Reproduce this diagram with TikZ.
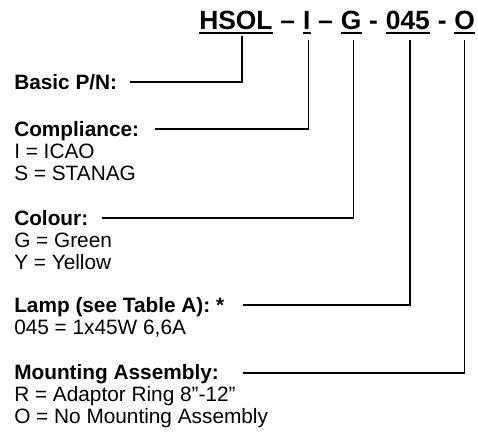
\documentclass[tikz,border=0pt]{standalone}
\usepackage{fontspec}
\setmainfont{Liberation Sans}
\usetikzlibrary{calc}
\begin{document}
\begin{tikzpicture}[x=0.75pt,y=-0.75pt,
  body/.style={anchor=base west, inner sep=0pt, font=\fontsize{15.6}{16.5}\selectfont},
  bodyb/.style={anchor=base west, inner sep=0pt, font=\fontsize{15.6}{16.5}\selectfont\bfseries},
  ttl/.style={anchor=base west, inner sep=0pt, font=\fontsize{19.8}{22}\selectfont\bfseries},
  conn/.style={line width=1pt},
  uline/.style={line width=1.6pt}]
\useasboundingbox (0,0) rectangle (478,439);
% title
\node[ttl] (hsol) at (199,29) {HSOL};
\node[ttl] (d1) at (hsol.base east) {\kern0.278em–\kern0.278em};
\node[ttl] (pi) at (d1.base east) {I};
\node[ttl] (d2) at (pi.base east) {\kern0.278em–\kern0.278em};
\node[ttl] (pg) at (d2.base east) {G};
\node[ttl] (d3) at (pg.base east) {\kern0.278em-\kern0.278em};
\node[ttl] (p045) at (d3.base east) {045};
\node[ttl] (d4) at (p045.base east) {\kern0.278em-\kern0.278em};
\node[ttl] (po) at (d4.base east) {O};
\foreach \p in {hsol,pi,pg,p045,po}
  \draw[uline] ([yshift=-3pt]\p.base west) -- ([yshift=-3pt]\p.base east);
% labels
\node[bodyb] (basic) at (14,89) {Basic P/N:};
\node[bodyb] (comp) at (14,136) {Compliance:};
\node[body] (compi) at (14,158) {I = ICAO};
\node[body] (comps) at (14,180) {S = STANAG};
\node[bodyb] (col) at (14,225) {Colour:};
\node[body] (colg) at (14,247) {G = Green};
\node[body] (coly) at (14,269) {Y = Yellow};
\node[bodyb] (lamp) at (14,312) {Lamp (see Table A): *};
\node[body] (lamp45) at (14,334) {045 = 1x45W 6,6A};
\node[bodyb] (mount) at (14,379) {Mounting Assembly:};
\node[body] (mountr) at (14,401) {R = Adaptor Ring 8”-12”};
\node[body] (mounto) at (14,423) {O = No Mounting Assembly};
% connector ends
\coordinate (basicE) at (130,82);
\coordinate (compE) at (155,129);
\coordinate (colE) at (102,218);
\coordinate (lampE) at (243,305);
\coordinate (mountE) at (243,373);
% connectors
\draw[conn] ([yshift=-5pt]$(hsol.base west)!0.58!(hsol.base east)$) |- (basicE);
\draw[conn] ([yshift=-8pt]$(pi.base west)!0.7!(pi.base east)$) |- (compE);
\draw[conn] ([yshift=-8pt]$(pg.base west)!0.6!(pg.base east)$) |- (colE);
\draw[conn] ([yshift=-8pt]$(p045.base west)!0.55!(p045.base east)$) |- (lampE);
\draw[conn] ([yshift=-8pt]$(po.base west)!0.5!(po.base east)$) |- (mountE);
\end{tikzpicture}
\end{document}
